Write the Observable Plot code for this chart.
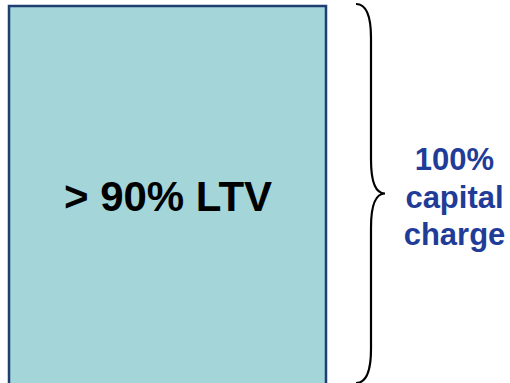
<!DOCTYPE html>
<html>
<head>
<meta charset="utf-8">
<script src="https://cdn.jsdelivr.net/npm/d3@7"></script>
<script src="https://cdn.jsdelivr.net/npm/@observablehq/plot@0.6"></script>
<style>
  html, body { margin: 0; padding: 0; background: #fff; overflow: hidden; }
</style>
</head>
<body>
<div id="chart"></div>
<script>
// Data
const categories = ["> 90% LTV"];
const charges = [100];             // capital charge, %
const chargeLabels = ["100%", "capital", "charge"];

const table = categories.map((c, i) => ({category: c, charge: charges[i]}));

const plot = Plot.plot({
  width: 510,
  height: 383,
  margin: 0,
  style: {background: "#fff", overflow: "visible"},
  x: {type: "band", domain: categories, range: [8.5, 326], padding: 0, axis: null},
  y: {domain: [0, 100], range: [388, 6], axis: null},
  marks: [
    Plot.barY(table, {
      x: "category", y: "charge",
      fill: "#a3d5d9", stroke: "#1f3f73", strokeWidth: 2.5
    }),
    Plot.text(table, {
      x: "category", y: d => d.charge / 2,
      text: "category",
      fontFamily: "Liberation Sans, Arial, sans-serif",
      fontWeight: "bold", fontSize: 42, fill: "#000",
      lineAnchor: "middle", textAnchor: "middle"
    }),
    Plot.text(table, {
      y: d => d.charge / 2,
      text: () => chargeLabels.join("\n"),
      frameAnchor: "right", dx: -56, dy: -2,
      fontFamily: "Liberation Sans, Arial, sans-serif",
      fontWeight: "bold", fontSize: 31, fill: "#1f3c98",
      lineAnchor: "middle", textAnchor: "middle", lineHeight: 1.22
    })
  ]
});

// Curly brace spanning the charge range, drawn through the scales
(function () {
  const xs = plot.scale("x"), ys = plot.scale("y");
  const svg = d3.select(plot);
  const barRight = xs.apply(categories[0]) + xs.bandwidth;
  const bx0 = barRight + 30, bx1 = barRight + 45, bx2 = barRight + 59;
  const yTop = ys.apply(charges[0]) - 2, yBot = ys.apply(0) - 5, yMid = (yTop + yBot) / 2;
  const r = 34;
  const d = `M${bx0},${yTop} Q${bx1},${yTop} ${bx1},${yTop + r} L${bx1},${yMid - r} Q${bx1},${yMid} ${bx2},${yMid} Q${bx1},${yMid} ${bx1},${yMid + r} L${bx1},${yBot - r} Q${bx1},${yBot} ${bx0},${yBot}`;
  svg.append("path").attr("d", d).attr("fill", "none").attr("stroke", "#000").attr("stroke-width", 2.2);
})();

document.getElementById("chart").appendChild(plot);
</script>
</body>
</html>
